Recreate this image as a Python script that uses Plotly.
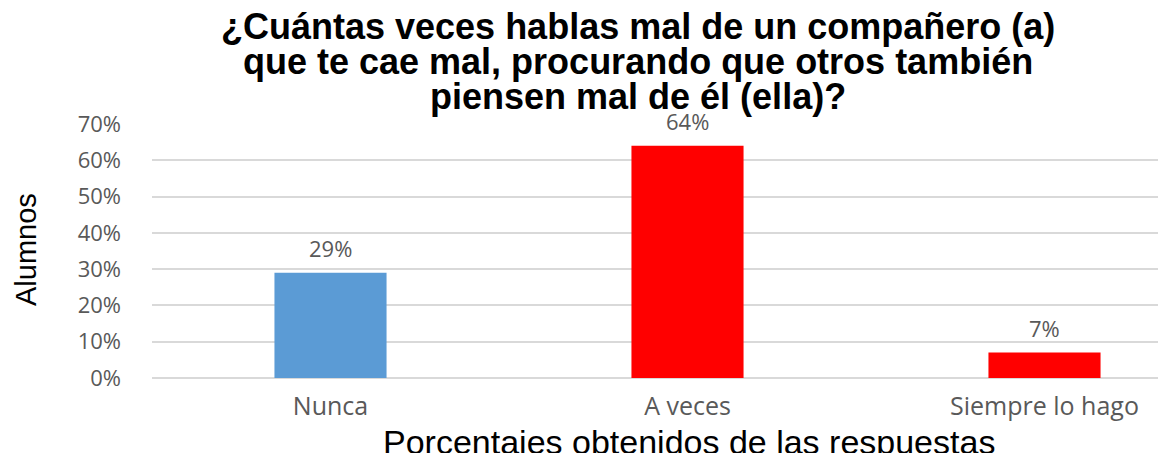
import plotly.graph_objects as go

categories = ["Nunca", "A veces", "Siempre lo hago"]
values = [0.29, 0.64, 0.07]
labels = ["29%", "64%", "7%"]
colors = ["#5b9bd5", "#ff0000", "#ff0000"]
tick_vals = [0, 0.1, 0.2, 0.3, 0.4, 0.5, 0.6, 0.7]
tick_text = ["0%", "10%", "20%", "30%", "40%", "50%", "60%", "70%"]
title_lines = [
    "¿Cuántas veces hablas mal de un compañero (a)",
    "que te cae mal, procurando que otros también",
    "piensen mal de él (ella)?",
]
x_title = "Porcentajes obtenidos de las respuestas"
y_title = "Alumnos"

# page is offset by 8px (body margin)
OFF = 8
W, H = 1166 - OFF, 453 - OFF
PL, PT, PB = 152, 124, 378  # plot left / top / bottom in page px
PW = 1166 - PL
PH = PB - PT


def px_x(px):
    return (px - PL) / PW


def px_y(py):
    return (PB - py) / PH


fig = go.Figure()
fig.add_trace(go.Bar(
    x=categories, y=values, marker=dict(color=colors, line=dict(width=0)),
    width=0.314, showlegend=False, hoverinfo="skip"))

for c, v, t in zip(categories, values, labels):
    fig.add_annotation(x=c, y=v, text=t, showarrow=False, yanchor="bottom",
                       yshift=8, font=dict(family="Open Sans", size=22, color="#595959"))

fig.update_layout(
    width=W, height=H,
    margin=dict(l=PL - OFF, r=0, t=PT - OFF, b=H - (PB - OFF), pad=0),
    plot_bgcolor="white", paper_bgcolor="white",
    xaxis=dict(
        range=[-0.5, -0.5 + PW / 357],
        tickfont=dict(family="Open Sans", size=25, color="#595959"),
        showgrid=False, zeroline=False, showline=False, ticks="",
        ticklabelstandoff=11,
    ),
    yaxis=dict(
        range=[0, 0.7], tickvals=tick_vals, ticktext=tick_text,
        tickfont=dict(family="Open Sans", size=22, color="#595959"),
        showgrid=True, gridcolor="#d9d9d9", gridwidth=1.5,
        zeroline=True, zerolinecolor="#d9d9d9", zerolinewidth=1.5,
        showline=False, ticks="", ticklabelstandoff=30,
    ),
)

for line, cy in zip(title_lines, [26, 61, 96]):
    fig.add_annotation(text=line, xref="paper", yref="paper", x=px_x(638), y=px_y(cy),
                       xanchor="center", yanchor="middle", showarrow=False,
                       font=dict(family="Liberation Sans", size=36, color="black", weight="bold"))

fig.add_annotation(text=x_title, xref="paper", yref="paper",
                   x=px_x(689), y=px_y(442), xanchor="center", yanchor="middle",
                   showarrow=False, font=dict(family="Liberation Sans", size=34, color="black"))
fig.add_annotation(text=y_title, xref="paper", yref="paper",
                   x=px_x(8), y=px_y(250), xanchor="left", yanchor="middle",
                   textangle=-90, showarrow=False,
                   font=dict(family="Liberation Sans", size=29, color="black"))

fig.write_html("out.html")
